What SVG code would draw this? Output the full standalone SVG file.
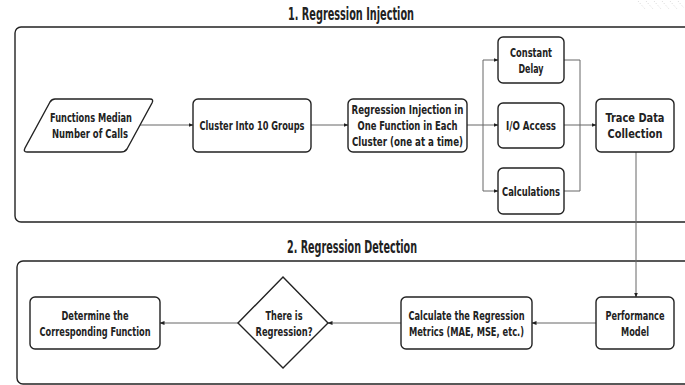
<svg xmlns="http://www.w3.org/2000/svg" width="685" height="385" viewBox="0 0 685 385">
<defs>
<marker id="ah" viewBox="0 0 10 10" refX="9" refY="5" markerWidth="5" markerHeight="5" orient="auto" markerUnits="userSpaceOnUse">
<path d="M0,1 L10,5 L0,9 Z" fill="#222"/>
</marker>
<style>
.panel{fill:#fff;stroke:#222;stroke-width:1.4}
.node{fill:#fff;stroke:#222;stroke-width:1.4}
.t{font-family:"DejaVu Sans Condensed","DejaVu Sans","Liberation Sans",sans-serif;font-stretch:condensed;font-weight:bold;font-size:13px;fill:#222;text-anchor:middle}
.title{font-family:"DejaVu Sans Condensed","DejaVu Sans","Liberation Sans",sans-serif;font-stretch:condensed;font-weight:bold;font-size:17px;fill:#222;text-anchor:middle}
.c{fill:none;stroke:#666;stroke-width:1}
.wm{fill:none;stroke:#d6d6d6;stroke-width:1;stroke-dasharray:1 2}
</style>
</defs>
<rect width="685" height="385" fill="#fff"/>
<g id="mark">
<path class="wm" d="M638,1 L645,9 M646,1 L653,9 M654,1 L661,9 M662,1 L669,9 M670,1 L677,9 M678,1 L684,8"/>
</g>
<text class="title" x="351" y="20" textLength="126" lengthAdjust="spacingAndGlyphs">1. Regression Injection</text>
<rect class="panel" x="15" y="27" width="700" height="195" rx="6"/>
<text class="title" x="352" y="253" textLength="130" lengthAdjust="spacingAndGlyphs">2. Regression Detection</text>
<rect class="panel" x="17" y="261" width="700" height="123" rx="6"/>

<g id="connectors">
<path class="c" d="M139,125 H193" marker-end="url(#ah)"/>
<path class="c" d="M311,125 H348" marker-end="url(#ah)"/>
<path class="c" d="M467,125 H498" marker-end="url(#ah)"/>
<path class="c" d="M483,125 V60 H498" marker-end="url(#ah)"/>
<path class="c" d="M483,125 V191 H498" marker-end="url(#ah)"/>
<path class="c" d="M564,60 H580 V191 H564"/>
<path class="c" d="M564,125 H596" marker-end="url(#ah)"/>
<path class="c" d="M636,152 V297" marker-end="url(#ah)"/>
<path class="c" d="M596,323 H532" marker-end="url(#ah)"/>
<path class="c" d="M401,323 H328" marker-end="url(#ah)"/>
<path class="c" d="M238,323 H160" marker-end="url(#ah)"/>
</g>

<g id="functions">
<path class="node" d="M55,99 H150 Q154,99 152,103 L127,149 Q125,152 121,152 H27 Q23,152 25,148 L50,102 Q52,99 55,99 Z"/>
<text class="t" x="91" y="122" textLength="82" lengthAdjust="spacingAndGlyphs">Functions Median</text>
<text class="t" x="90" y="138" textLength="76" lengthAdjust="spacingAndGlyphs">Number of Calls</text>
</g>
<g id="cluster">
<rect class="node" x="193" y="99" width="118" height="53" rx="5"/>
<text class="t" x="252" y="130" textLength="105" lengthAdjust="spacingAndGlyphs">Cluster Into 10 Groups</text>
</g>
<g id="inject">
<rect class="node" x="348" y="99" width="119" height="53" rx="5"/>
<text class="t" x="407.5" y="114" textLength="112" lengthAdjust="spacingAndGlyphs">Regression Injection in</text>
<text class="t" x="407.5" y="130" textLength="100" lengthAdjust="spacingAndGlyphs">One Function in Each</text>
<text class="t" x="407.5" y="146" textLength="111" lengthAdjust="spacingAndGlyphs">Cluster (one at a time)</text>
</g>
<g id="delay">
<rect class="node" x="498" y="37" width="66" height="46" rx="5"/>
<text class="t" x="531" y="57" textLength="42" lengthAdjust="spacingAndGlyphs">Constant</text>
<text class="t" x="531" y="73" textLength="25" lengthAdjust="spacingAndGlyphs">Delay</text>
</g>
<g id="io">
<rect class="node" x="498" y="103" width="66" height="45" rx="5"/>
<text class="t" x="531" y="130" textLength="50" lengthAdjust="spacingAndGlyphs">I/O Access</text>
</g>
<g id="calc">
<rect class="node" x="498" y="168" width="66" height="46" rx="5"/>
<text class="t" x="531" y="196" textLength="58" lengthAdjust="spacingAndGlyphs">Calculations</text>
</g>
<g id="trace">
<rect class="node" x="596" y="99" width="78" height="53" rx="5"/>
<text class="t" x="635" y="122" textLength="59" lengthAdjust="spacingAndGlyphs">Trace Data</text>
<text class="t" x="635" y="138" textLength="55" lengthAdjust="spacingAndGlyphs">Collection</text>
</g>
<g id="perf">
<rect class="node" x="596" y="297" width="78" height="52" rx="5"/>
<text class="t" x="635" y="320" textLength="59" lengthAdjust="spacingAndGlyphs">Performance</text>
<text class="t" x="635" y="336" textLength="28" lengthAdjust="spacingAndGlyphs">Model</text>
</g>
<g id="metrics">
<rect class="node" x="401" y="297" width="131" height="52" rx="5"/>
<text class="t" x="466.5" y="320" textLength="116" lengthAdjust="spacingAndGlyphs">Calculate the Regression</text>
<text class="t" x="466.5" y="336" textLength="115" lengthAdjust="spacingAndGlyphs">Metrics (MAE, MSE, etc.)</text>
</g>
<g id="decision">
<path class="node" d="M283,277 L328,323 L283,368 L238,323 Z"/>
<text class="t" x="284" y="320" textLength="37" lengthAdjust="spacingAndGlyphs">There is</text>
<text class="t" x="284" y="336" textLength="57" lengthAdjust="spacingAndGlyphs">Regression?</text>
</g>
<g id="determine">
<rect class="node" x="30" y="297" width="130" height="52" rx="5"/>
<text class="t" x="95" y="320" textLength="67" lengthAdjust="spacingAndGlyphs">Determine the</text>
<text class="t" x="95" y="336" textLength="111" lengthAdjust="spacingAndGlyphs">Corresponding Function</text>
</g>
</svg>
